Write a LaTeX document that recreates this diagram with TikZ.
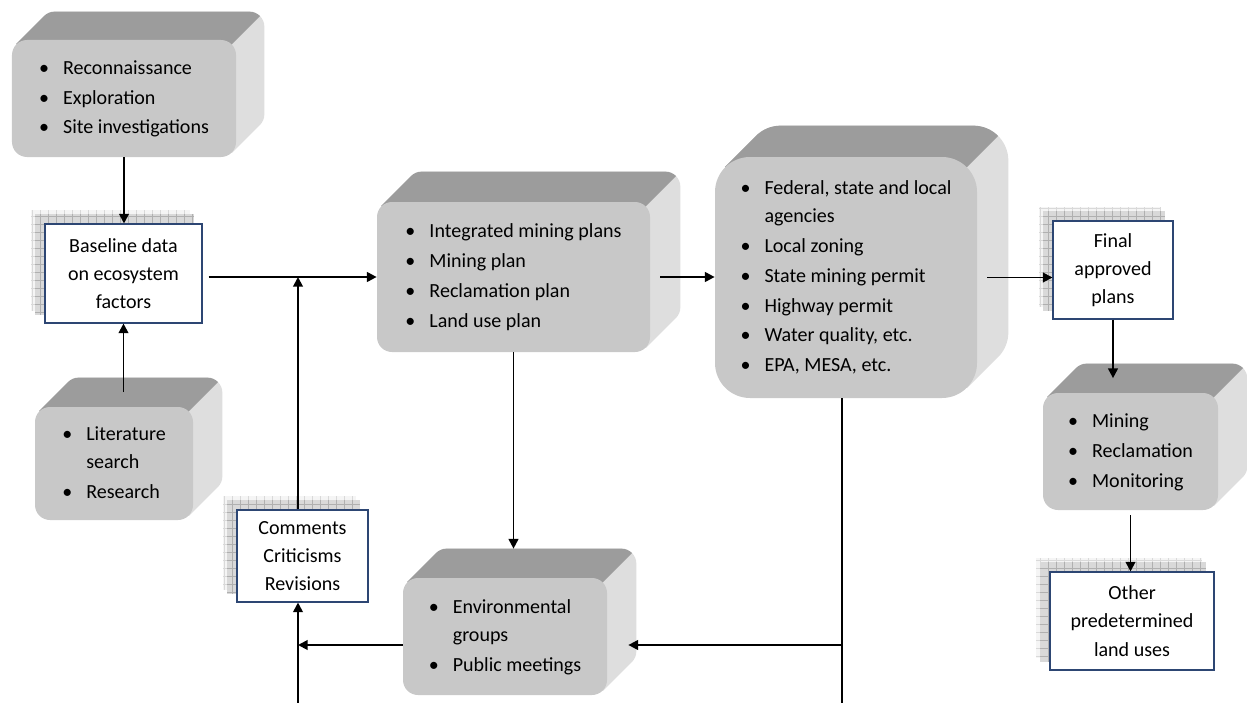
\documentclass[tikz,border=0pt]{standalone}
\usepackage{fontspec}
\setmainfont{Carlito}
\usetikzlibrary{positioning,calc,arrows.meta,backgrounds}

\definecolor{facegray}{RGB}{200,200,200}
\definecolor{topgray}{RGB}{156,156,156}
\definecolor{sidegray}{RGB}{222,222,222}
\definecolor{docblue}{RGB}{45,70,115}

\tikzset{
    face/.style={rounded corners=0.3cm, fill=facegray, inner sep=0pt, font=\fontsize{11.4}{16}\selectfont},
    doc/.style={draw=docblue, fill=white, line width=0.6pt, align=center, inner sep=0pt, font=\fontsize{11.4}{16}\selectfont},
    conn/.style={line width=1.1pt, -{Triangle[length=5.5pt,width=5.5pt]}},
    wire/.style={line width=1.1pt}
}

% bullet list
\newcommand{\blist}[1]{\begin{tabular}{@{}c@{\hspace{8pt}}l@{}}#1\end{tabular}}
\newcommand{\bu}{\textbullet &}

% outline of the extruded block: #1 node, #2 depth, #3 radius, #4 action
\newcommand{\hull}[4]{%
    #4 ($(#1.north west)+(0.293*#3,-0.293*#3)$) -- ++(#2,#2)
       -- ($(#1.south east)+(-0.293*#3+#2,0.293*#3+#2)$)
       -- ($(#1.south east)+(-0.293*#3,0.293*#3)$) -- cycle
       [rounded corners=#3cm] ($(#1.south west)+(#2,#2)$) rectangle ($(#1.north east)+(#2,#2)$);}

\newcommand{\slab}[3]{%
    \hull{#1}{#2}{#3}{\fill[sidegray]}
    \begin{scope}
        \hull{#1}{#2}{#3}{\clip}
        \fill[topgray] ($(#1.north east)+(-9,-9)$) -- ++(18,18) -- ++(-18,0) -- cycle;
    \end{scope}
    \coordinate (#1-top) at ($(#1.north)+(0.5*#2,0.5*#2)$);
    \coordinate (#1-back) at ($(#1.north)+(#2,#2)$);}

% stacked sheets behind a document box
\newcommand{\stack}[1]{%
    \foreach \s/\c/\g in {0.26/8/30, 0.18/30/62} {
        \fill[gray!\c] ($(#1.south west)+(-\s,\s)$) rectangle ($(#1.north east)+(-\s,\s)$);
        \draw[gray!\g, step=0.16, line width=0.3pt] ($(#1.south west)+(-\s,\s)$) grid ($(#1.north east)+(-\s,\s)$);
    }}

\begin{document}
\begin{tikzpicture}
    \useasboundingbox (0,0) rectangle (24.94,-14.06);

    % blocks
    \node[face, minimum width=4.48cm, minimum height=2.34cm] (recon) at (2.48,-1.97)
        {\blist{\bu Reconnaissance\\[1pt] \bu Exploration\\[1pt] \bu Site investigations}};
    \node[face, minimum width=3.16cm, minimum height=2.26cm] (lit) at (2.28,-9.27)
        {\blist{\bu Literature\\ & search\\[1pt] \bu Research}};
    \node[face, minimum width=5.46cm, minimum height=3.0cm] (plans) at (10.27,-5.54)
        {\blist{\bu Integrated mining plans\\[1pt] \bu Mining plan\\[1pt] \bu Reclamation plan\\[1pt] \bu Land use plan}};
    \node[face, minimum width=4.08cm, minimum height=2.34cm] (groups) at (10.1,-12.73)
        {\blist{\bu Environmental\\ & groups\\[1pt] \bu Public meetings}};
    \node[face, rounded corners=0.7cm, minimum width=5.24cm, minimum height=4.82cm] (agencies) at (16.92,-5.55)
        {\blist{\bu Federal, state and local\\ & agencies\\[1pt] \bu Local zoning\\[1pt] \bu State mining permit\\[1pt]
                \bu Highway permit\\[1pt] \bu Water quality, etc.\\[1pt] \bu EPA, MESA, etc.}};
    \node[face, minimum width=3.5cm, minimum height=2.34cm] (ops) at (22.61,-9.03)
        {\blist{\bu Mining\\[1pt] \bu Reclamation\\[1pt] \bu Monitoring}};

    % documents
    \node[doc, minimum width=3.14cm, minimum height=1.98cm] (base) at (2.47,-5.47) {Baseline data\\on ecosystem\\factors};
    \node[doc, minimum width=2.62cm, minimum height=1.84cm] (comments) at (6.05,-11.12) {Comments\\Criticisms\\Revisions};
    \node[doc, minimum width=2.4cm, minimum height=1.96cm] (final) at (22.26,-5.4) {Final\\approved\\plans};
    \node[doc, minimum width=3.28cm, minimum height=1.96cm] (other) at (22.64,-12.42) {Other\\predetermined\\land uses};

    \begin{scope}[on background layer]
        \slab{recon}{0.56}{0.3}
        \slab{lit}{0.58}{0.3}
        \slab{plans}{0.6}{0.3}
        \slab{groups}{0.58}{0.3}
        \slab{agencies}{0.62}{0.7}
        \slab{ops}{0.58}{0.3}
        \stack{base}
        \stack{comments}
        \stack{final}
        \stack{other}
    \end{scope}

    \coordinate (fbot) at (5.96,-14.06);
    \coordinate (rbot) at (16.84,-14.06);
    \coordinate (gl) at ([yshift=-0.17cm]groups.west);
    \coordinate (gr) at ([xshift=0.42cm,yshift=-0.17cm]groups.east);

    % connectors
    \draw[conn] (recon.south) -- (recon.south |- base.north);
    \draw[conn] (base.south |- lit-top) -- (base.south);
    \draw[conn, shorten <=0.12cm] (base.east |- plans.west) -- (plans.west);
    \draw[conn] (fbot |- comments.north) -- (fbot |- plans.west);
    \draw[conn] (fbot) -- (fbot |- comments.south);
    \draw[conn] (gl) -- (gl -| fbot);
    \draw[conn] (plans.south) -- (plans.south |- groups-back);
    \draw[conn, shorten <=0.2cm] (plans.east) -- (plans.east -| agencies.west);
    \draw[wire] (rbot |- agencies.south) -- (rbot);
    \draw[conn] (gr -| rbot) -- (gr);
    \draw[conn, shorten <=0.2cm] (agencies.east) -- (agencies.east -| final.west);
    \draw[conn] (final.south) -- (final.south |- ops-top);
    \draw[conn, shorten <=0.1cm] (ops.south) -- (ops.south |- other.north);
\end{tikzpicture}
\end{document}
